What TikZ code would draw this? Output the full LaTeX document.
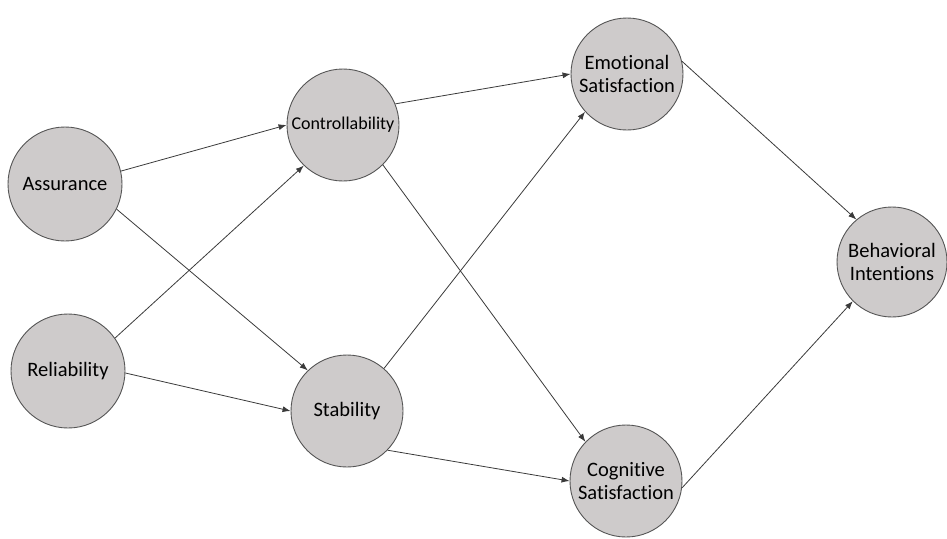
\documentclass[tikz,border=0pt]{standalone}
\usepackage{fontspec}
\setmainfont{Carlito}[Ligatures=CommonOff]
\usetikzlibrary{arrows.meta}
\definecolor{circfill}{HTML}{CECBCB}
\definecolor{circline}{HTML}{555555}
\definecolor{linkcol}{HTML}{3A3A3A}
\begin{document}
\begin{tikzpicture}[x=1pt,y=-1pt,
  factor/.style={circle, draw=circline, line width=0.9pt, fill=circfill,
    inner sep=0pt, align=center, font=\fontsize{20.5}{23}\selectfont, text=black},
  link/.style={draw=linkcol, line width=0.8pt, -{Latex[length=8pt,width=6pt]}}]
\useasboundingbox (0,0) rectangle (947,538);
\node[factor, minimum size=114pt] (asr) at (65,184) {Assurance};
\node[factor, minimum size=114pt] (rel) at (68,371) {Reliability};
\node[factor, minimum size=112pt, font=\fontsize{18}{20}\selectfont] (ctl) at (343,125) {Controllability};
\node[factor, minimum size=112pt] (stb) at (347,411) {Stability};
\node[factor, minimum size=112pt] (emo) at (627,74) {Emotional\\Satisfaction};
\node[factor, minimum size=112pt] (cog) at (626,481) {Cognitive\\Satisfaction};
\node[factor, minimum size=110pt] (beh) at (892,262) {Behavioral\\Intentions};
\draw[link] (asr.13) -- (ctl.west);
\draw[link] (asr.-26) -- (stb.134);
\draw[link] (rel.35) -- (ctl.226);
\draw[link] (rel.-2) -- (stb.west);
\draw[link] (ctl.22) -- (emo.west);
\draw[link] (ctl.-45) -- (cog.136);
\draw[link] (stb.49) -- (emo.222);
\draw[link] (stb.-44) -- (cog.west);
\draw[link] (emo.13) -- (beh.130);
\draw[link] (cog.-7) -- (beh.225);
\end{tikzpicture}
\end{document}
